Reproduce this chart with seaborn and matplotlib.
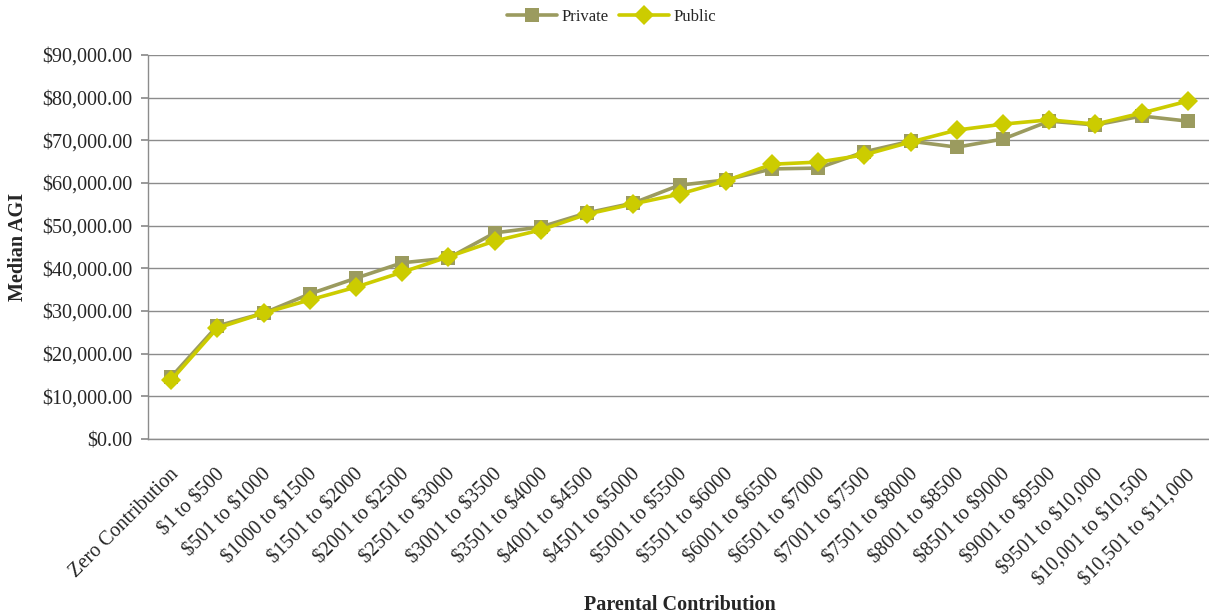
import matplotlib
matplotlib.use("Agg")
import matplotlib.pyplot as plt
import matplotlib.ticker as mticker
import matplotlib.transforms as mtransforms
import seaborn as sns
import pandas as pd

categories = [
    "Zero Contribution", "$1 to $500", "$501 to $1000", "$1000 to $1500",
    "$1501 to $2000", "$2001 to $2500", "$2501 to $3000", "$3001 to $3500",
    "$3501 to $4000", "$4001 to $4500", "$4501 to $5000", "$5001 to $5500",
    "$5501 to $6000", "$6001 to $6500", "$6501 to $7000", "$7001 to $7500",
    "$7501 to $8000", "$8001 to $8500", "$8501 to $9000", "$9001 to $9500",
    "$9501 to $10,000", "$10,001 to $10,500", "$10,501 to $11,000",
]
private = [14500, 26500, 29500, 34000, 37700, 41300, 42400, 48300, 49700,
           53000, 55300, 59500, 60700, 63300, 63500, 67300, 69800, 68400,
           70300, 74500, 73600, 75700, 74500]
public = [13800, 26000, 29500, 32600, 35600, 39100, 42700, 46400, 49000,
          52700, 55100, 57400, 60500, 64400, 64900, 66600, 69600, 72400,
          73800, 74800, 73800, 76400, 79200]

df = pd.DataFrame({
    "Parental Contribution": categories * 2,
    "Median AGI": private + public,
    "Sector": ["Private"] * len(categories) + ["Public"] * len(categories),
})

sns.set_theme(style="white")
plt.rcParams["font.family"] = ["Liberation Serif", "DejaVu Serif"]
plt.rcParams["text.parse_math"] = False

fig = plt.figure(figsize=(12.09, 6.15), dpi=100)
ax = fig.add_axes([148 / 1209, 1 - 439 / 615, (1211 - 148) / 1209, (439 - 55) / 615])

palette = {"Private": "#9b9b5f", "Public": "#cccc00"}
sns.lineplot(
    data=df, x="Parental Contribution", y="Median AGI", hue="Sector",
    style="Sector", markers={"Private": "s", "Public": "D"},
    dashes=False, palette=palette, sort=False, linewidth=2.6,
    markersize=10, markeredgewidth=0, ax=ax, zorder=3,
)

ax.set_xlim(-0.5, len(categories) - 0.5)
ax.set_ylim(0, 90000)
ax.yaxis.set_major_locator(mticker.MultipleLocator(10000))
ax.yaxis.set_major_formatter(mticker.FuncFormatter(lambda v, p: f"${v:,.2f}"))
ax.grid(axis="y", color="#8c8c8c", linewidth=1)
ax.set_axisbelow(True)
for s in ["top", "right"]:
    ax.spines[s].set_visible(False)
for s in ["left", "bottom"]:
    ax.spines[s].set_color("#8c8c8c")
    ax.spines[s].set_linewidth(1)

ax.tick_params(axis="y", which="major", left=True, length=5, color="#8c8c8c",
               labelsize=14.5, pad=6)
ax.tick_params(axis="x", bottom=False, labelsize=14.5, pad=13)
shift = mtransforms.ScaledTranslation(-2 / 100, 0, fig.dpi_scale_trans)
for lab in ax.get_xticklabels():
    lab.set_rotation(45)
    lab.set_ha("right")
    lab.set_va("top")
    lab.set_rotation_mode("anchor")
    lab.set_transform(lab.get_transform() + shift)

ax.set_xlabel("Parental Contribution", fontsize=14.5, fontweight="bold")
ax.set_ylabel("Median AGI", fontsize=14.5, fontweight="bold")
ax.xaxis.set_label_coords(0.5, -0.405)
ax.yaxis.set_label_coords(-0.113, 0.5)

handles, labels = ax.get_legend_handles_labels()
ax.get_legend().remove()
fig.legend(handles, labels, loc="center", bbox_to_anchor=(0.506, 1 - 17 / 615),
           ncol=2, frameon=False, fontsize=12, handlelength=3.0,
           columnspacing=0.6, handletextpad=0.3)

fig.savefig("out.png", dpi=100)
